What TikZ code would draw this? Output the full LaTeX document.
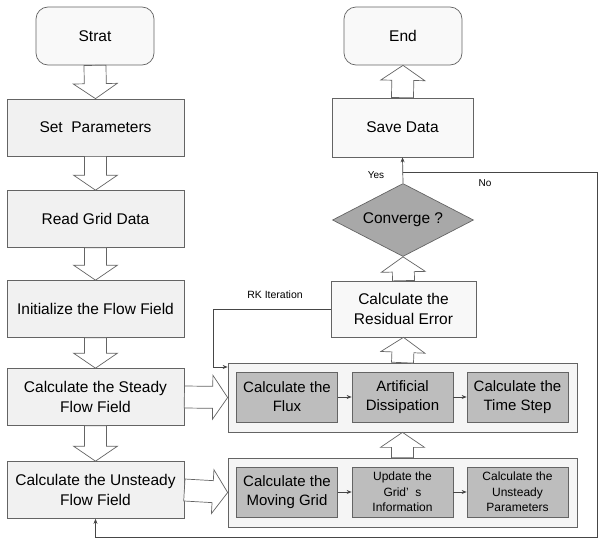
\documentclass[tikz,border=0pt]{standalone}
\usepackage{fontspec}
\setmainfont{Liberation Sans}
\usepackage{tikz}
\usetikzlibrary{shapes.geometric, arrows.meta, positioning, calc}
\definecolor{boxgray}{RGB}{241,241,241}
\definecolor{framegray}{RGB}{245,245,245}
\definecolor{innergray}{RGB}{189,189,189}
\definecolor{decisiongray}{RGB}{168,168,168}
\definecolor{edgegray}{RGB}{100,100,100}

% hollow block arrow from tail #1 to tip #2
\newcommand{\fatarrow}[2]{%
  \coordinate (fa-h) at ($(#2)!15pt!(#1)$);
  \draw[fat] ($(#1)!11pt!90:(#2)$) -- ($(fa-h)!11pt!-90:(#1)$)
    -- ($(fa-h)!22pt!-90:(#1)$) -- (#2) -- ($(fa-h)!22pt!90:(#1)$)
    -- ($(fa-h)!11pt!90:(#1)$) -- ($(#1)!11pt!-90:(#2)$) -- cycle;}

\begin{document}
\begin{tikzpicture}[
    x=1pt, y=-1pt,
    box/.style={draw=edgegray, line width=0.7pt, fill=boxgray, minimum width=177, minimum height=57, align=center, inner sep=0, font=\fontsize{15.5}{19.5}\selectfont},
    term/.style={box, rounded corners=12pt, fill=boxgray!40!white, minimum width=118, minimum height=58},
    frame/.style={draw=edgegray, line width=0.7pt, fill=framegray, minimum width=349, minimum height=69, inner sep=0},
    ibox/.style={draw=edgegray, line width=0.7pt, fill=innergray, minimum width=101, minimum height=50, align=center, inner sep=0, font=\fontsize{15}{19}\selectfont},
    decision/.style={draw=edgegray, line width=0.7pt, fill=decisiongray, diamond, aspect=1.93, minimum width=141, minimum height=73, inner sep=0, font=\fontsize{15.5}{19}\selectfont},
    fat/.style={draw=edgegray, line width=0.7pt, fill=white, line join=miter},
    line/.style={draw=edgegray!70!black, line width=0.7pt, -{Stealth[length=5pt, width=4pt]}},
    lbl/.style={font=\fontsize{10}{12}\selectfont}
]
    \useasboundingbox (0,0) rectangle (600,541);

    % left column
    \node[term] (start) at (95,36) {Strat};
    \node[box] (setpar) at (95.5,127.5) {Set\ \ Parameters};
    \node[box] (readgrid) at (95.5,219) {Read Grid Data};
    \node[box] (init) at (95.5,309) {Initialize the Flow Field};
    \node[box] (steady) at (95.5,397) {Calculate the Steady\\Flow Field};
    \node[box] (unsteady) at (95.5,490) {Calculate the Unsteady\\Flow Field};

    % right column
    \node[term] (finish) at (403,36) {End};
    \node[box, fill=white!60!boxgray, minimum width=141, minimum height=59] (save) at (402.5,127.5) {Save Data};
    \node[decision] (conv) at (403,220) {Converge ?};
    \node[box, fill=white!50!boxgray, minimum width=145, minimum height=56] (resid) at (403.5,309) {Calculate the\\Residual Error};

    % steady loop
    \node[frame] (steadybox) at (402.5,397.5) {};
    \node[ibox] (flux) at (287,397) {Calculate the\\Flux};
    \node[ibox] (dissip) at (402.5,397) {Artificial\\Dissipation};
    \node[ibox] (tstep) at (517.5,397) {Calculate the\\Time Step};

    % unsteady part
    \node[frame] (unsteadybox) at (402.5,492.5) {};
    \node[ibox] (moving) at (287,492) {Calculate the\\Moving Grid};
    \node[ibox, font=\fontsize{12}{15.5}\selectfont] (update) at (402.5,492) {Update the\\Grid’\ \ s\\Information};
    \node[ibox, font=\fontsize{12}{15.5}\selectfont] (unpar) at (517.5,492) {Calculate the\\Unsteady\\Parameters};

    % block arrows
    \fatarrow{start.south}{setpar.north}
    \fatarrow{setpar.south}{readgrid.north}
    \fatarrow{readgrid.south}{init.north}
    \fatarrow{init.south}{steady.north}
    \fatarrow{steady.south}{unsteady.north}
    \fatarrow{steady.east}{steadybox.west}
    \fatarrow{unsteady.east}{unsteadybox.west}
    \fatarrow{unsteadybox.north}{steadybox.south}
    \fatarrow{steadybox.north}{resid.south}
    \fatarrow{resid.north}{conv.south}
    \fatarrow{save.north}{finish.south}

    % thin arrows
    \draw[line] (flux) -- (dissip);
    \draw[line] (dissip) -- (tstep);
    \draw[line] (moving) -- (update);
    \draw[line] (update) -- (unpar);
    \draw[line] (conv.north) -- (save.south);
    \coordinate (branch) at ($(conv.north)!0.42!(save.south)$);
    \coordinate (noright) at (597,537);
    \draw[line] (branch) -| (noright) -| (unsteady.south);
    \coordinate (rk) at (213,367);
    \draw[line] (resid.west) -| (rk) -- (rk -| steadybox.west);

    % labels
    \node[lbl] at (376,175) {Yes};
    \node[lbl] at (485,183) {No};
    \node[lbl, font=\fontsize{10.5}{12}\selectfont] at (275,295) {RK Iteration};
\end{tikzpicture}
\end{document}
